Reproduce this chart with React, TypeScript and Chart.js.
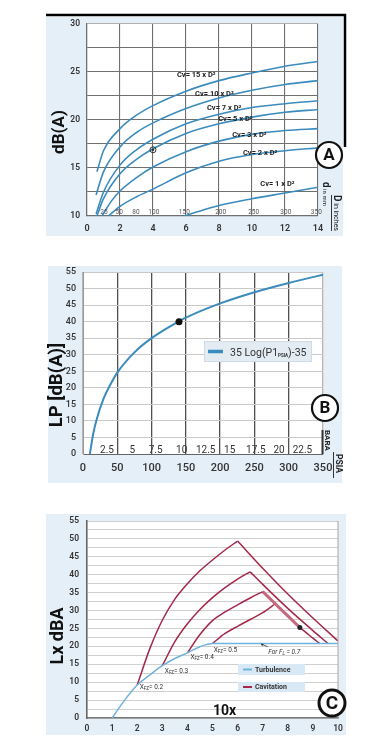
import { useEffect, useRef } from "react";
import { Chart, registerables } from "chart.js";

Chart.register(...registerables);

type Pt = [number, number];

const FONT = "Roboto, 'Open Sans', sans-serif";
const BLUE = "#3b8bbd";
const RED = "#a3284a";
const TURB = "#6db3dc";
const PANEL = "#e5eff8";

// ---------------- Chart A : dB(A) vs D ----------------
const aXTicks = [0, 2, 4, 6, 8, 10, 12, 14];
const aYTicks = [10, 12.5, 15, 17.5, 20, 22.5, 25, 27.5, 30];
const aMmLabels = ["25", "50", "80", "100", "150", "200", "250", "300", "350"];
const aMmAt = [1.03, 1.95, 2.97, 4.05, 5.9, 8.1, 10.1, 12.05, 13.9];
const cv15: Pt[] = [[0.6, 14.6], [1, 16.8], [2, 19.1], [3, 20.5], [4, 21.5], [6, 23.0], [8, 24.1], [10, 24.9], [12, 25.6], [14, 26.1]];
const cv10: Pt[] = [[0.55, 12.2], [1, 14.6], [2, 17.2], [3, 18.7], [4, 19.7], [6, 21.2], [8, 22.3], [10, 23.1], [12, 23.7], [14, 24.1]];
const cv7: Pt[] = [[0.55, 10.2], [1, 12.5], [2, 15.3], [3, 16.9], [4, 18.0], [6, 19.6], [8, 20.6], [10, 21.3], [12, 21.7], [14, 22.0]];
const cv5: Pt[] = [[0.6, 10], [1, 11.8], [2, 14.4], [3, 15.9], [4, 17.0], [6, 18.6], [8, 19.6], [10, 20.3], [12, 20.8], [14, 21.1]];
const cv3: Pt[] = [[0.9, 10], [1.5, 11.6], [2, 12.6], [3, 14.0], [4, 15.1], [6, 16.7], [8, 17.8], [10, 18.5], [12, 18.9], [14, 19.1]];
const cv2: Pt[] = [[1.3, 10], [2, 11.0], [3, 12.0], [4, 12.8], [6, 14.5], [8, 15.7], [10, 16.4], [12, 16.8], [14, 17.1]];
const cv1: Pt[] = [[5.9, 10], [7, 10.6], [8, 11.1], [10, 11.8], [12, 12.4], [14, 13.0]];
const cvSeries = [cv15, cv10, cv7, cv5, cv3, cv2, cv1];
const cvLabels = ["Cv= 15 x D²", "Cv= 10 x D²", "Cv= 7 x D²", "Cv= 5 x D²", "Cv= 3 x D²", "Cv= 2 x D²", "Cv= 1 x D²"];
const cvLabelAt: Pt[] = [[5.45, 24.7], [6.55, 22.7], [7.27, 21.25], [7.95, 20.1], [8.8, 18.4], [9.45, 16.6], [10.5, 13.3]];
const aMarker: Pt = [4, 16.9];

// ---------------- Chart B : LP vs P1 ----------------
const bXTicks = [0, 50, 100, 150, 200, 250, 300, 350];
const bYTicks = [0, 5, 10, 15, 20, 25, 30, 35, 40, 45, 50, 55];
const bPsia = [10, 15, 20, 30, 40, 50, 75, 100, 140, 150, 200, 250, 300, 350];
const bLp = [0, 6.2, 10.5, 16.7, 21.0, 24.6, 30.7, 35.0, 40.1, 41.2, 45.5, 48.9, 51.7, 54.2];
const bBaraLabels = ["2.5", "5", "7.5", "10", "12.5", "15", "17.5", "20", "22.5"];
const bBaraAt = [35, 72, 106, 144, 179, 214, 252, 286, 320];
const bMarker: Pt = [140, 40];

// ---------------- Chart C : Lx dBA vs 10x ----------------
const cXTicks = [0, 1, 2, 3, 4, 5, 6, 7, 8, 9, 10];
const cYTicks = [0, 2.5, 5, 7.5, 10, 12.5, 15, 17.5, 20, 22.5, 25, 27.5, 30, 32.5, 35, 37.5, 40, 42.5, 45, 47.5, 50, 52.5, 55];
const turb: Pt[] = [[1, 0], [1.5, 5], [2, 9.2], [2.5, 12], [3, 14.6], [3.5, 16.6], [4, 18.2], [4.5, 19.9], [5, 20.8], [10, 20.8]];
const cav1Up: Pt[] = [[2, 9.2], [2.5, 19.3], [3, 27.3], [3.5, 33.2], [4, 37.5], [4.5, 41.1], [5, 44.1], [5.5, 46.9], [6, 49.4]];
const cav1Down: Pt[] = [[6, 49.4], [7, 41.8], [8, 34.6], [9, 27.9], [10, 21.5]];
const cav2Up: Pt[] = [[3, 14.6], [3.5, 21.3], [4, 26.3], [4.5, 30.3], [5, 33.6], [5.5, 36.4], [6, 38.8], [6.5, 40.8]];
const cav2Down: Pt[] = [[6.5, 40.8], [7, 37.3], [8, 30.6], [9, 24.4], [9.6, 20.8]];
const cav3Up: Pt[] = [[4, 18.2], [4.5, 23.3], [5, 27.2], [5.5, 29.6], [6, 31.6], [6.5, 33.5], [7, 35.3]];
const cav3Down: Pt[] = [[7, 35.3], [7.5, 31.9], [8, 28.5], [8.48, 25.3], [9, 22.3], [9.27, 20.8]];
const cav4Up: Pt[] = [[5, 20.8], [5.5, 23.6], [6, 25.6], [6.5, 27.5], [7, 29.4], [7.5, 31.9]];
const xfzValues = ["= 0.2", "= 0.3", "= 0.4", "= 0.5"];
const xfzAt: Pt[] = [[2.1, 8.9], [3.1, 13.4], [4.12, 17.2], [5.05, 19.2]];
const flNoteAt: Pt = [7.22, 18.7];
const flArrow: Pt[] = [[7.2, 19.9], [6.93, 20.7]];
const cMarker: Pt = [8.48, 25.3];
const cLegend = ["Turbulence", "Cavitation"];

// ---------------- helpers ----------------
const toXY = (pts: Pt[]) => pts.map(([x, y]) => ({ x, y }));

function lineDs(pts: Pt[], color: string, width = 1.6, extra: any = {}) {
  return {
    data: toXY(pts),
    borderColor: color,
    borderWidth: width,
    pointRadius: 0,
    cubicInterpolationMode: "monotone",
    fill: false,
    ...extra,
  };
}

function txt(ctx: any, s: string, x: number, y: number, font: string, color = "#222", align = "left", baseline = "middle", rot = 0) {
  ctx.save();
  ctx.translate(x, y);
  if (rot) ctx.rotate(rot);
  ctx.font = font;
  ctx.fillStyle = color;
  ctx.textAlign = align;
  ctx.textBaseline = baseline;
  ctx.fillText(s, 0, 0);
  ctx.restore();
}

function rich(ctx: any, parts: { t: string; f: string; dy?: number }[], x: number, y: number, color: string, rot = 0) {
  ctx.save();
  ctx.translate(x, y);
  if (rot) ctx.rotate(rot);
  ctx.fillStyle = color;
  ctx.textAlign = "left";
  ctx.textBaseline = "alphabetic";
  let cx = 0;
  for (const p of parts) {
    ctx.font = p.f;
    ctx.fillText(p.t, cx, p.dy || 0);
    cx += ctx.measureText(p.t).width;
  }
  ctx.restore();
  return cx;
}

function seg(ctx: any, x1: number, y1: number, x2: number, y2: number, color: string, w: number) {
  ctx.save();
  ctx.strokeStyle = color;
  ctx.lineWidth = w;
  ctx.beginPath();
  ctx.moveTo(x1, y1);
  ctx.lineTo(x2, y2);
  ctx.stroke();
  ctx.restore();
}

function ring(ctx: any, cx: number, cy: number, r: number, letter: string, lw: number, size: number) {
  ctx.save();
  ctx.beginPath();
  ctx.arc(cx, cy, r, 0, Math.PI * 2);
  ctx.fillStyle = "#fff";
  ctx.fill();
  ctx.lineWidth = lw;
  ctx.strokeStyle = "#111";
  ctx.stroke();
  ctx.restore();
  txt(ctx, letter, cx, cy + 1, `bold ${size}px ${FONT}`, "#111", "center", "middle");
}

function dot(ctx: any, x: number, y: number, r: number, color = "#111") {
  ctx.save();
  ctx.beginPath();
  ctx.arc(x, y, r, 0, Math.PI * 2);
  ctx.fillStyle = color;
  ctx.fill();
  ctx.restore();
}

function panelPlugin(id: string, rect: number[], extra: (c: any) => void) {
  return {
    id,
    beforeDraw(chart: any) {
      const { ctx, chartArea: ca } = chart;
      ctx.save();
      ctx.fillStyle = "#fff";
      ctx.fillRect(0, 0, chart.width, chart.height);
      ctx.fillStyle = PANEL;
      ctx.fillRect(rect[0], rect[1], rect[2] - rect[0], rect[3] - rect[1]);
      ctx.fillStyle = "#fff";
      ctx.fillRect(ca.left, ca.top, ca.right - ca.left, ca.bottom - ca.top);
      ctx.restore();
    },
    afterDraw(chart: any) {
      extra(chart);
    },
  };
}

function scale(ticks: number[], o: any) {
  return {
    type: "linear",
    min: ticks[0],
    max: ticks[ticks.length - 1],
    afterBuildTicks: (s: any) => {
      s.ticks = ticks.map((value) => ({ value }));
    },
    afterFit: (s: any) => {
      if (o.axis === "x") s.height = o.fit;
      else s.width = o.fit;
    },
    ticks: {
      padding: o.pad,
      color: "#333",
      autoSkip: false,
      maxRotation: 0,
      font: { family: FONT, size: o.size, weight: o.weight || "500" },
      callback: (v: any) => (Number(v) % 5 === 0 || o.axis === "x" ? String(v) : ""),
    },
    grid: { drawTicks: false, ...o.grid },
    border: o.border,
  };
}

function base(padding: any, scales: any) {
  return {
    responsive: false,
    animation: false,
    devicePixelRatio: 1,
    events: [],
    layout: { padding },
    plugins: { legend: { display: false }, tooltip: { enabled: false } },
    scales,
  };
}

// ---------------- decorations ----------------
function drawA(chart: any) {
  const { ctx, chartArea: ca } = chart;
  const px = (v: number) => chart.scales.x.getPixelForValue(v);
  const py = (v: number) => chart.scales.y.getPixelForValue(v);
  ctx.save();
  ctx.strokeStyle = "#000";
  ctx.lineWidth = 2.5;
  ctx.beginPath();
  ctx.moveTo(46, 15);
  ctx.lineTo(345, 15);
  ctx.lineTo(345, 147);
  ctx.stroke();
  ctx.restore();
  txt(ctx, "dB(A)", 60, 132, `bold 17px ${FONT}`, "#111", "center", "middle", -Math.PI / 2);
  aMmLabels.forEach((s, i) => txt(ctx, s, px(aMmAt[i]), ca.bottom - 4, `6.5px ${FONT}`, "#555", "center"));
  cvLabels.forEach((s, i) => txt(ctx, s, px(cvLabelAt[i][0]), py(cvLabelAt[i][1]), `bold 7.5px ${FONT}`, "#1e1e1e"));
  const mx = px(aMarker[0]);
  const my = py(aMarker[1]);
  ctx.save();
  ctx.strokeStyle = "#333";
  ctx.lineWidth = 1;
  ctx.beginPath();
  ctx.arc(mx, my, 3, 0, Math.PI * 2);
  ctx.stroke();
  ctx.restore();
  dot(ctx, mx, my, 1.3, "#333");
  rich(ctx, [{ t: "d", f: `bold 10px ${FONT}` }, { t: " in mm", f: `6px ${FONT}` }], 322.5, 182, "#222", Math.PI / 2);
  const w = rich(ctx, [{ t: "D", f: `bold 10px ${FONT}` }, { t: " in inches", f: `7px ${FONT}` }], 333.5, 195, "#222", Math.PI / 2);
  seg(ctx, 331.5, 195, 331.5, 195 + w, "#333", 1);
  ring(ctx, 329, 155, 13, "A", 2.2, 17);
}

function drawB(chart: any) {
  const { ctx, chartArea: ca } = chart;
  const px = (v: number) => chart.scales.x.getPixelForValue(v);
  const py = (v: number) => chart.scales.y.getPixelForValue(v);
  txt(ctx, "LP [dB(A)]", 57, 140, `bold 18.5px ${FONT}`, "#111", "center", "middle", -Math.PI / 2);
  bBaraLabels.forEach((s, i) => txt(ctx, s, px(bBaraAt[i]), ca.bottom - 1, `10px ${FONT}`, "#333", "center", "alphabetic"));
  dot(ctx, px(bMarker[0]), py(bMarker[1]), 3.5, "#111");
  // legend
  ctx.save();
  ctx.fillStyle = "#e3ebf3";
  ctx.strokeStyle = "#d2dbe4";
  ctx.lineWidth = 1;
  ctx.fillRect(204, 96, 108, 21);
  ctx.strokeRect(204.5, 96.5, 107, 20);
  ctx.restore();
  seg(ctx, 208, 106.5, 223, 106.5, BLUE, 3.5);
  rich(ctx, [
    { t: "35 Log(P1", f: `10.5px ${FONT}` },
    { t: "PSIA", f: `bold 4.5px ${FONT}`, dy: 1.5 },
    { t: ")-35", f: `10.5px ${FONT}` },
  ], 230, 110.5, "#333");
  // BARA / PSIA
  seg(ctx, 322.5, 185, 322.5, 209, "#333", 2);
  rich(ctx, [{ t: "BARA", f: `bold 8px ${FONT}` }], 325, 185, "#222", Math.PI / 2);
  seg(ctx, 333.5, 207, 333.5, 233, "#333", 1);
  rich(ctx, [{ t: "PSIA", f: `bold 8.5px ${FONT}` }], 335.5, 209, "#222", Math.PI / 2);
  ring(ctx, 325, 163, 13, "B", 2.2, 17);
}

function drawC(chart: any) {
  const { ctx, chartArea: ca } = chart;
  const px = (v: number) => chart.scales.x.getPixelForValue(v);
  const py = (v: number) => chart.scales.y.getPixelForValue(v);
  seg(ctx, ca.right, ca.top, ca.right, ca.bottom, "#a8a8a8", 1);
  txt(ctx, "Lx dBA", 58, 136, `bold 18px ${FONT}`, "#111", "center", "middle", -Math.PI / 2);
  xfzValues.forEach((s, i) => {
    rich(ctx, [
      { t: "X", f: `6.5px ${FONT}` },
      { t: "FZ", f: `4.5px ${FONT}`, dy: 1 },
      { t: s, f: `6.5px ${FONT}` },
    ], px(xfzAt[i][0]), py(xfzAt[i][1]) + 2.5, "#333");
  });
  rich(ctx, [
    { t: "For F", f: `italic 6.5px ${FONT}` },
    { t: "L", f: `italic 4.5px ${FONT}`, dy: 1 },
    { t: " = 0.7", f: `italic 6.5px ${FONT}` },
  ], px(flNoteAt[0]), py(flNoteAt[1]) + 2.5, "#333");
  const ax1 = px(flArrow[0][0]), ay1 = py(flArrow[0][1]);
  const ax2 = px(flArrow[1][0]), ay2 = py(flArrow[1][1]);
  seg(ctx, ax1, ay1, ax2, ay2, "#333", 0.8);
  ctx.save();
  ctx.fillStyle = "#333";
  ctx.beginPath();
  ctx.moveTo(ax2, ay2);
  ctx.lineTo(ax2 + 2.8, ay2 + 0.2);
  ctx.lineTo(ax2 + 1.2, ay2 + 2.4);
  ctx.closePath();
  ctx.fill();
  ctx.restore();
  dot(ctx, px(cMarker[0]), py(cMarker[1]), 2.5, "#222");
  // legend
  const colors = [TURB, RED];
  const boxes = [[238, 164, 67, 11], [238, 182, 67, 10]];
  cLegend.forEach((s, i) => {
    const [bx, by, bw, bh] = boxes[i];
    ctx.save();
    ctx.fillStyle = "#d9e8f5";
    ctx.fillRect(bx, by, bw, bh);
    ctx.restore();
    seg(ctx, bx + 5, by + bh / 2, bx + 14, by + bh / 2, colors[i], 2);
    txt(ctx, s, bx + 17, by + bh / 2 + 0.5, `bold 7px ${FONT}`, "#333", "left", "middle");
  });
  txt(ctx, "10x", 213, 211, `bold 14px ${FONT}`, "#111", "left", "middle");
  ring(ctx, 332, 203, 13, "C", 3, 19);
}

// ---------------- configs ----------------
function configA(): any {
  const gridA = { color: (c: any) => (c.tick && c.tick.value === 30 ? "#b0b0b0" : "#6f6f6f"), lineWidth: 1.1 };
  return {
    type: "line",
    data: { datasets: cvSeries.map((s) => lineDs(s, BLUE, 1.6)) },
    options: base(
      { left: 57, right: 61, top: 24, bottom: 9 },
      {
        x: scale(aXTicks, { axis: "x", fit: 20, pad: 7, size: 9, weight: "600", grid: { color: "#6f6f6f", lineWidth: 1.1 }, border: { color: "#6f6f6f", width: 1.2 } }),
        y: scale(aYTicks, { axis: "y", fit: 30, pad: 7, size: 8.5, weight: "600", grid: gridA, border: { color: "#6f6f6f", width: 1.2 } }),
      }
    ),
    plugins: [panelPlugin("decoA", [46, 17, 343, 236], drawA)],
  };
}

function configB(): any {
  const pts: Pt[] = bPsia.map((p, i) => [p, bLp[i]]);
  return {
    type: "line",
    data: { datasets: [lineDs(pts, BLUE, 2)] },
    options: base(
      { left: 53, right: 56, top: 27, bottom: 26 },
      {
        x: scale(bXTicks, {
          axis: "x", fit: 20, pad: 8, size: 11,
          grid: { color: (c: any) => (c.tick && (c.tick.value === 0 || c.tick.value === 350) ? "#b5b5b5" : "#505050"), lineWidth: 1.3 },
          border: { color: "#666", width: 1 },
        }),
        y: scale(bYTicks, { axis: "y", fit: 30, pad: 7, size: 9, grid: { color: "#c9c9c9", lineWidth: 1 }, border: { color: "#9a9a9a", width: 1 } }),
      }
    ),
    plugins: [panelPlugin("decoB", [48, 21, 342, 238], drawB)],
  };
}

function configC(): any {
  const thick = (c: any) => (c.p1.parsed.x <= 8.5 ? 3 : 1.5);
  const tint = (c: any) => (c.p1.parsed.x <= 8.5 ? "#c46a80" : RED);
  return {
    type: "line",
    data: {
      datasets: [
        lineDs(turb, TURB, 1.5),
        lineDs(cav1Up, RED, 1.5),
        lineDs(cav1Down, RED, 1.5),
        lineDs(cav2Up, RED, 1.5),
        lineDs(cav2Down, RED, 1.5),
        lineDs(cav3Up, RED, 1.5),
        lineDs(cav3Down, RED, 1.5, { segment: { borderWidth: thick, borderColor: tint } }),
        lineDs(cav4Up, RED, 1.5),
      ],
    },
    options: base(
      { left: 57, right: 41, top: 21, bottom: 15 },
      {
        x: scale(cXTicks, { axis: "x", fit: 20, pad: 6, size: 8.5, weight: "600", grid: { display: false }, border: { color: "#777", width: 1.5 } }),
        y: scale(cYTicks, { axis: "y", fit: 30, pad: 8, size: 8.5, weight: "600", grid: { color: "#d0d0d0", lineWidth: 1 }, border: { color: "#666", width: 1.6 } }),
      }
    ),
    plugins: [panelPlugin("decoC", [46, 14, 346, 235], drawC)],
  };
}

export default function App() {
  const aRef = useRef<HTMLCanvasElement>(null);
  const bRef = useRef<HTMLCanvasElement>(null);
  const cRef = useRef<HTMLCanvasElement>(null);

  useEffect(() => {
    const charts = [
      new Chart(aRef.current as HTMLCanvasElement, configA()),
      new Chart(bRef.current as HTMLCanvasElement, configB()),
      new Chart(cRef.current as HTMLCanvasElement, configC()),
    ];
    return () => charts.forEach((c) => c.destroy());
  }, []);

  const cs = (top: number): any => ({ position: "absolute", left: 0, top, display: "block" });
  return (
    <div style={{ position: "absolute", left: 0, top: 0, width: 379, height: 753, background: "#fff", overflow: "hidden" }}>
      <canvas ref={aRef} width={379} height={245} style={cs(0)} />
      <canvas ref={bRef} width={379} height={255} style={cs(245)} />
      <canvas ref={cRef} width={379} height={253} style={cs(500)} />
    </div>
  );
}
